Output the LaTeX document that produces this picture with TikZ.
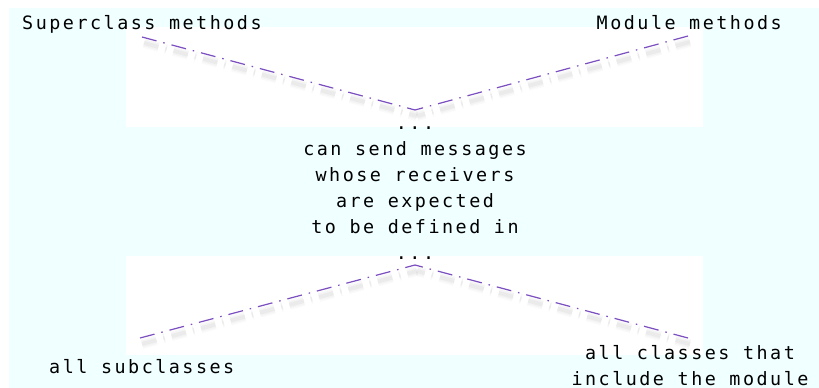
\documentclass[tikz,border=0pt]{standalone}
\usepackage{fontspec}
\newfontfamily\lblfont[LetterSpace=13.6]{DejaVu Sans Mono}
\definecolor{bgcyan}{HTML}{F0FFFF}
\definecolor{edgepurple}{HTML}{7B4FBF}
\tikzset{
  lbl/.style={font=\lblfont\fontsize{18.4}{26}\selectfont, inner sep=0pt, text=black},
  link/.style={draw=edgepurple, line width=1.2pt, dash pattern=on 15pt off 7pt on 1.5pt off 7pt},
  linkshadow/.style={draw=black, dash pattern=on 15pt off 7pt on 1.5pt off 7pt, transform canvas={shift={(2pt,-6pt)}}},
}
\begin{document}
\begin{tikzpicture}[x=1pt,y=-1pt]
  \useasboundingbox (0,0) rectangle (819,388);
  \fill[white] (0,0) rectangle (819,388);
  \fill[bgcyan] (9,8) rectangle (819,388);
  \fill[white] (126,27) rectangle (703,127);
  \fill[white] (126,256) rectangle (703,355);

  \node[lbl, anchor=base west] (sup) at (22,29.5) {Superclass methods};
  \node[lbl, anchor=base east] (mod) at (782,29.5) {Module methods};
  \node[lbl, anchor=base, align=center] (mid) at (415,259) {...\\can send messages\\whose receivers\\are expected\\to be defined in\\...};
  \node[lbl, anchor=base west] (sub) at (49,373) {all subclasses};
  \node[lbl, anchor=base, align=center] (inc) at (690,385) {all classes that\\include the module};

  \coordinate (supend) at (142,37);
  \coordinate (modend) at (688,36);
  \coordinate (topapex) at (415,110);
  \coordinate (botapex) at (415,265);
  \coordinate (subend) at (140,338);
  \coordinate (incend) at (688,338);

  \foreach \w/\o in {10/0.02, 7/0.025, 4/0.035}{
    \draw[linkshadow, line width=\w pt, opacity=\o] (supend) -- (topapex);
    \draw[linkshadow, line width=\w pt, opacity=\o] (modend) -- (topapex);
    \draw[linkshadow, line width=\w pt, opacity=\o] (subend) -- (botapex);
    \draw[linkshadow, line width=\w pt, opacity=\o] (incend) -- (botapex);
  }
  \draw[link] (supend) -- (topapex);
  \draw[link] (modend) -- (topapex);
  \draw[link] (subend) -- (botapex);
  \draw[link] (incend) -- (botapex);
\end{tikzpicture}
\end{document}
